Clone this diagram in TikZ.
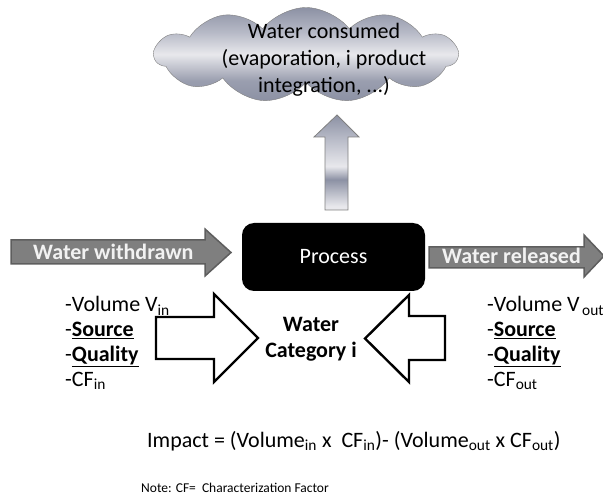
\documentclass[tikz,border=0pt]{standalone}
\usepackage{fontspec}
\setmainfont{Carlito}
\usetikzlibrary{shapes.symbols}
\definecolor{mD}{HTML}{8C91A4}
\definecolor{mL}{HTML}{E8E8EC}
\definecolor{mM}{HTML}{B6B9C6}
\definecolor{grayarrow}{HTML}{7F7F7F}
\definecolor{grayborder}{HTML}{5E5E5E}
\definecolor{lighttext}{HTML}{F2F2F2}
\pgfdeclareverticalshading{uparrowshade}{100bp}{color(0bp)=(mL); color(27bp)=(mL); color(41bp)=(mD); color(48bp)=(mL); color(63bp)=(mM); color(75bp)=(mD); color(100bp)=(mD)}
\pgfdeclareverticalshading{cloudshade}{100bp}{color(0bp)=(mD); color(25bp)=(mD); color(36bp)=(mD!85!mL); color(50bp)=(mL); color(62bp)=(mM); color(75bp)=(mD); color(100bp)=(mD)}
\begin{document}
\begin{tikzpicture}[x=1pt,y=-1pt,
  bigtext/.style={font=\fontsize{22}{26}\selectfont},
  smalltext/.style={font=\fontsize{13.5}{16}\selectfont},
  grayarrowstyle/.style={fill=grayarrow, draw=grayborder, line width=1.5pt, line join=miter},
  blockarrow/.style={fill=white, draw=black, line width=2.4pt, line join=miter},
  listitem/.style={bigtext, anchor=base west, inner sep=0pt},
  ctext/.style={bigtext, anchor=base, inner sep=0pt}]
\useasboundingbox (0,0) rectangle (603,497);

% cloud
\node[cloud, cloud puffs=11, cloud puff arc=105, aspect=3.2, minimum width=303pt,
      minimum height=95pt, inner sep=0pt, draw=gray, shading=cloudshade] (cloud) at (306,55) {};
\node[ctext] (cloudA) at (324,39) {Water consumed};
\node[ctext] (cloudB) at (324,66) {(evaporation, i product};
\node[ctext] (cloudC) at (324,93) {integration, ...)};

% up arrow
\shadedraw[shading=uparrowshade, draw=gray, line width=0.8pt]
  (325,210) -- (325,137) -- (314,137) -- (337,115) -- (359,137) -- (348,137) -- (348,210) -- cycle;

% process
\node[fill=black, rounded corners=12pt, minimum width=183pt, minimum height=68pt,
      inner sep=0pt, text=white, bigtext] (process) at (333.5,257) {Process};

% water withdrawn
\draw[grayarrowstyle] (11,240) -- (205,240) -- (205,229) -- (231,252.5) -- (205,276) -- (205,264) -- (11,264) -- cycle;
\node[bigtext, anchor=base west, inner sep=0pt, text=lighttext] (withdrawn) at (33,260) {\textbf{Water withdrawn}};

% water released
\draw[grayarrowstyle] (429,247) -- (584,247) -- (584,235) -- (604,256) -- (584,277) -- (584,268) -- (429,268) -- cycle;
\node[bigtext, anchor=base west, inner sep=0pt, text=lighttext] (released) at (442,264) {\textbf{Water released}};

% block arrows
\draw[blockarrow] (156,317) -- (214,317) -- (214,294) -- (258,338) -- (214,382) -- (214,359) -- (156,359) -- cycle;
\draw[blockarrow] (445,316) -- (409,316) -- (409,295) -- (365,338.5) -- (409,382) -- (409,360) -- (445,360) -- cycle;

% water category
\node[ctext] (catA) at (311,332) {\textbf{Water}};
\node[ctext] (catB) at (311,357) {\textbf{Category i}};

% left list
\node[listitem] (lA) at (65,312) {-Volume V\textsubscript{in}};
\node[listitem] (lB) at (65,337) {-\underline{\textbf{Source}}};
\node[listitem] (lC) at (65,361) {-\underline{\textbf{Quality}}};
\node[listitem] (lD) at (65,386) {-CF\textsubscript{in}};

% right list
\node[listitem] (rA) at (487,312) {-Volume V\textsubscript{\,out}};
\node[listitem] (rB) at (487,337) {-\underline{\textbf{Source}}};
\node[listitem] (rC) at (487,361) {-\underline{\textbf{Quality}}};
\node[listitem] (rD) at (487,386) {-CF\textsubscript{out}};

% formula and note
\node[listitem] (impact) at (147,447) {Impact = (Volume\textsubscript{in} x\ \ CF\textsubscript{in})- (Volume\textsubscript{out} x CF\textsubscript{out})};
\node[smalltext, anchor=base west, inner sep=0pt] (note) at (141,492) {Note: CF=\ \ Characterization Factor};
\end{tikzpicture}
\end{document}
